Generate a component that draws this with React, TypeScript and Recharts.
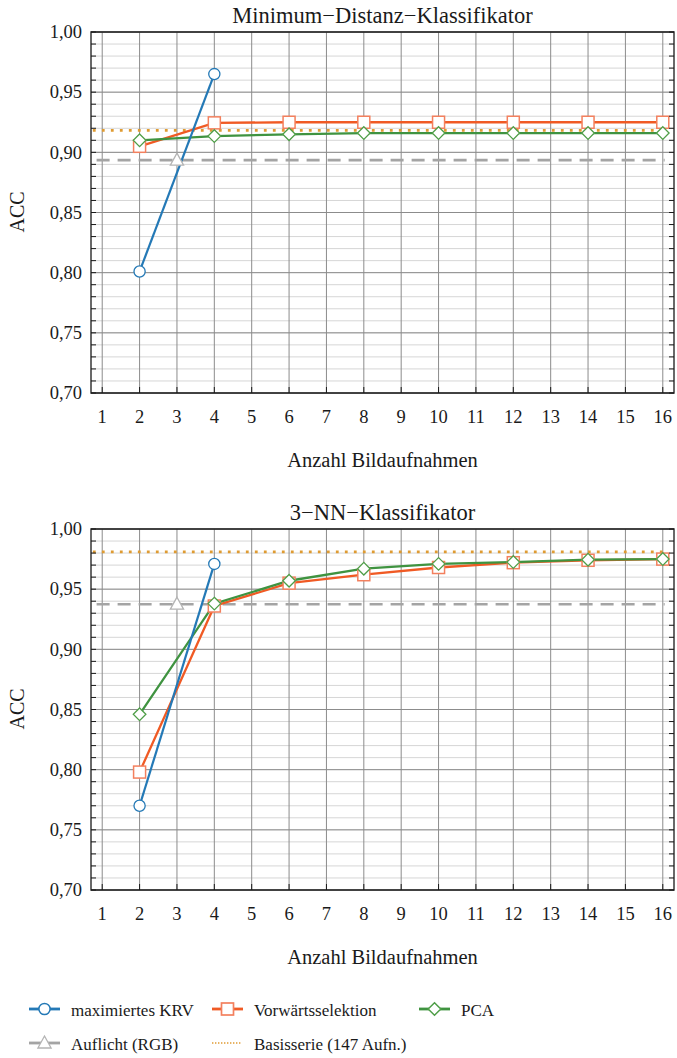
import React from 'react';
import { LineChart, Line, XAxis, YAxis, CartesianGrid, ReferenceArea } from 'recharts';

// ---------- data ----------
const xTicks = [1, 2, 3, 4, 5, 6, 7, 8, 9, 10, 11, 12, 13, 14, 15, 16];
const yMajor = [0.7, 0.75, 0.8, 0.85, 0.9, 0.95, 1.0];
const yMinor = Array.from({ length: 31 }, (_, i) => Math.round(70 + i) / 100);

const krvX = [2, 4];
const selX = [2, 4, 6, 8, 10, 12, 14, 16];
const rgbX = 3;

// Minimum-Distanz-Klassifikator
const mdKrv = [0.801, 0.965];
const mdFwd = [0.905, 0.9245, 0.925, 0.925, 0.925, 0.925, 0.925, 0.925];
const mdPca = [0.91, 0.9135, 0.915, 0.916, 0.916, 0.916, 0.916, 0.916];
const mdRgb = 0.8935;
const mdBase = 0.9183;

// 3-NN-Klassifikator
const nnKrv = [0.77, 0.971];
const nnFwd = [0.798, 0.936, 0.955, 0.962, 0.968, 0.972, 0.974, 0.975];
const nnPca = [0.846, 0.938, 0.957, 0.967, 0.971, 0.9725, 0.9745, 0.975];
const nnRgb = 0.9375;
const nnBase = 0.981;

// ---------- style ----------
const FONT = '"Liberation Serif", "Times New Roman", serif';
const BLUE = '#2479b6';
const ORANGE = '#f05a24';
const ORANGE_M = '#f3805e';
const GREEN = '#3f9340';
const GREEN_M = '#4f9e48';
const GRAY = '#a4a4a4';
const GRAY_M = '#b4b4b4';
const GOLD = '#df9b32';
const TXT = '#1a1a1a';

const PANEL_H = 497;

const toPts = (xs: number[], ys: number[]) => xs.map((x, i) => ({ x, y: ys[i] }));

const CircleDot = (p: any) =>
  p.cx == null ? <g key={p.index} /> : (
    <circle key={p.index} cx={p.cx} cy={p.cy} r={5.6} fill="#fff" stroke={BLUE} strokeWidth={1.3} />
  );
const SquareDot = (p: any) =>
  p.cx == null ? <g key={p.index} /> : (
    <rect key={p.index} x={p.cx - 6} y={p.cy - 6} width={12} height={12} fill="#fff" stroke={ORANGE_M} strokeWidth={1.5} />
  );
const DiamondDot = (p: any) =>
  p.cx == null ? <g key={p.index} /> : (
    <polygon
      key={p.index}
      points={`${p.cx},${p.cy - 6.3} ${p.cx + 6.3},${p.cy} ${p.cx},${p.cy + 6.3} ${p.cx - 6.3},${p.cy}`}
      fill="#fff"
      stroke={GREEN_M}
      strokeWidth={1.3}
    />
  );
const TriDot = (p: any) =>
  p.cx == null ? <g key={p.index} /> : (
    <polygon
      key={p.index}
      points={`${p.cx},${p.cy - 7} ${p.cx + 6.6},${p.cy + 5} ${p.cx - 6.6},${p.cy + 5}`}
      fill="#fff"
      stroke={GRAY_M}
      strokeWidth={1.3}
    />
  );

const isMajor = (v: number) => Math.abs(v * 20 - Math.round(v * 20)) < 1e-6;

const YTickLeft = (p: any) => {
  const { x, y, payload } = p;
  const v = payload.value as number;
  const ax = x + 9;
  return (
    <g>
      <line x1={ax} x2={ax + 5} y1={y} y2={y} stroke={TXT} strokeWidth={1} />
      {isMajor(v) && (
        <text x={x} y={y} dy="0.34em" textAnchor="end" style={{ fontFamily: FONT, fontSize: 18.5 }} fill={TXT}>
          {v.toFixed(2).replace('.', ',')}
        </text>
      )}
    </g>
  );
};

const YTickRight = (p: any) => {
  const { x, y } = p;
  return <line x1={x - 5} x2={x} y1={y} y2={y} stroke={TXT} strokeWidth={1} />;
};

const XTick = (p: any) => {
  const { x, y, payload } = p;
  const ay = y - 17;
  return (
    <g>
      <line x1={x} x2={x} y1={ay - 6} y2={ay} stroke={TXT} strokeWidth={1} />
      <text x={x} y={y} dy="0.71em" textAnchor="middle" style={{ fontFamily: FONT, fontSize: 18.5 }} fill={TXT}>
        {payload.value}
      </text>
    </g>
  );
};

type PanelProps = {
  krv: number[];
  fwd: number[];
  pca: number[];
  rgb: number;
  base: number;
};

const Panel = ({ krv, fwd, pca, rgb, base }: PanelProps) => (
  <LineChart width={677} height={PANEL_H} margin={{ top: 32, right: 0, left: 0, bottom: 0 }}>
    <CartesianGrid horizontalValues={yMinor} vertical={false} stroke="#d6d6d6" strokeWidth={1} />
    <CartesianGrid horizontalValues={yMajor} verticalValues={xTicks} stroke="#8c8c8c" strokeWidth={1} />
    <XAxis
      type="number"
      dataKey="x"
      domain={[0.7, 16.3]}
      ticks={xTicks}
      interval={0}
      allowDataOverflow
      axisLine={false}
      tickLine={false}
      tickSize={0}
      tickMargin={17}
      height={104}
      tick={XTick}
    />
    <YAxis
      type="number"
      domain={[0.7, 1.0]}
      ticks={yMinor}
      interval={0}
      allowDataOverflow
      axisLine={false}
      tickLine={false}
      tickSize={0}
      tickMargin={9}
      width={91}
      tick={YTickLeft}
    />
    <YAxis
      yAxisId="right"
      orientation="right"
      type="number"
      domain={[0.7, 1.0]}
      ticks={yMinor}
      interval={0}
      allowDataOverflow
      axisLine={false}
      tickLine={false}
      tickSize={0}
      tickMargin={0}
      width={3}
      tick={YTickRight}
    />
    <Line
      data={[{ x: 0.85, y: rgb }, { x: 16.05, y: rgb }]}
      dataKey="y"
      stroke={GRAY}
      strokeWidth={2.6}
      strokeDasharray="13 8"
      dot={false}
      isAnimationActive={false}
    />
    <Line
      data={[{ x: 0.75, y: base }, { x: 16.1, y: base }]}
      dataKey="y"
      stroke={GOLD}
      strokeWidth={2.8}
      strokeDasharray="2.8 6.2"
      dot={false}
      isAnimationActive={false}
    />
    <Line data={toPts(selX, fwd)} dataKey="y" stroke={ORANGE} strokeWidth={2.3} dot={SquareDot} isAnimationActive={false} />
    <Line data={toPts(selX, pca)} dataKey="y" stroke={GREEN} strokeWidth={2.3} dot={DiamondDot} isAnimationActive={false} />
    <Line data={toPts(krvX, krv)} dataKey="y" stroke={BLUE} strokeWidth={2.2} dot={CircleDot} isAnimationActive={false} />
    <Line data={[{ x: rgbX, y: rgb }]} dataKey="y" stroke="none" dot={TriDot} isAnimationActive={false} />
    <ReferenceArea x1={0.7} x2={16.3} y1={0.7} y2={1.0} fill="none" stroke={TXT} strokeWidth={1.3} ifOverflow="visible" />
  </LineChart>
);

const titles = ['Minimum\u2212Distanz\u2212Klassifikator', '3\u2212NN\u2212Klassifikator'];
const xLabel = 'Anzahl Bildaufnahmen';
const yLabel = 'ACC';
const legendItems = [
  { label: 'maximiertes KRV', kind: 'krv' },
  { label: 'Vorwärtsselektion', kind: 'fwd' },
  { label: 'PCA', kind: 'pca' },
  { label: 'Auflicht (RGB)', kind: 'rgb' },
  { label: 'Basisserie (147 Aufn.)', kind: 'base' },
];

const legendPos = [
  { x: 29, y: 1009 },
  { x: 212, y: 1009 },
  { x: 419, y: 1009 },
  { x: 29, y: 1043 },
  { x: 212, y: 1043 },
];

const LegendIcon = ({ kind, x, y }: { kind: string; x: number; y: number }) => {
  const cx = x + 15.5;
  if (kind === 'krv')
    return (
      <g>
        <line x1={x} x2={x + 31} y1={y} y2={y} stroke={BLUE} strokeWidth={2.8} />
        <circle cx={cx} cy={y} r={5.6} fill="#fff" stroke={BLUE} strokeWidth={1.5} />
      </g>
    );
  if (kind === 'fwd')
    return (
      <g>
        <line x1={x} x2={x + 31} y1={y} y2={y} stroke={ORANGE} strokeWidth={2.8} />
        <rect x={cx - 6} y={y - 6} width={12} height={12} fill="#fff" stroke={ORANGE_M} strokeWidth={1.7} />
      </g>
    );
  if (kind === 'pca')
    return (
      <g>
        <line x1={x} x2={x + 31} y1={y} y2={y} stroke={GREEN} strokeWidth={2.8} />
        <polygon
          points={`${cx},${y - 6.3} ${cx + 6.3},${y} ${cx},${y + 6.3} ${cx - 6.3},${y}`}
          fill="#fff"
          stroke={GREEN_M}
          strokeWidth={1.5}
        />
      </g>
    );
  if (kind === 'rgb')
    return (
      <g>
        <line x1={x} x2={x + 31} y1={y} y2={y} stroke={GRAY} strokeWidth={2.8} />
        <polygon
          points={`${cx},${y - 7} ${cx + 6.6},${y + 5} ${cx - 6.6},${y + 5}`}
          fill="#fff"
          stroke={GRAY_M}
          strokeWidth={1.3}
        />
      </g>
    );
  return <line x1={x} x2={x + 29} y1={y} y2={y} stroke={GOLD} strokeWidth={1.4} strokeDasharray="1.4 1.6" />;
};

export default function App() {
  return (
    <div style={{ position: 'absolute', left: 0, top: 0, width: 677, height: 1058, background: '#fff' }}>
      <div style={{ position: 'absolute', left: 0, top: 0 }}>
        <Panel krv={mdKrv} fwd={mdFwd} pca={mdPca} rgb={mdRgb} base={mdBase} />
      </div>
      <div style={{ position: 'absolute', left: 0, top: PANEL_H }}>
        <Panel krv={nnKrv} fwd={nnFwd} pca={nnPca} rgb={nnRgb} base={nnBase} />
      </div>
      <svg
        width={677}
        height={1058}
        style={{ position: 'absolute', left: 0, top: 0, pointerEvents: 'none', fontFamily: FONT }}
        fill={TXT}
      >
        {[0, 1].map((i) => {
          const off = i * PANEL_H;
          return (
            <g key={i}>
              <text x={382.5} y={22.7 + off} textAnchor="middle" fontSize={22.5}>
                {titles[i]}
              </text>
              <text x={382.5} y={466.7 + off} textAnchor="middle" fontSize={20.5}>
                {xLabel}
              </text>
              <text
                x={0}
                y={0}
                transform={`translate(24, ${212 + off}) rotate(-90)`}
                textAnchor="middle"
                fontSize={20}
              >
                {yLabel}
              </text>
            </g>
          );
        })}
        {legendItems.map((it, i) => (
          <g key={it.label}>
            <LegendIcon kind={it.kind} x={legendPos[i].x} y={legendPos[i].y} />
            <text x={legendPos[i].x + 42} y={legendPos[i].y + 6.5} fontSize={17}>
              {it.label}
            </text>
          </g>
        ))}
      </svg>
    </div>
  );
}
